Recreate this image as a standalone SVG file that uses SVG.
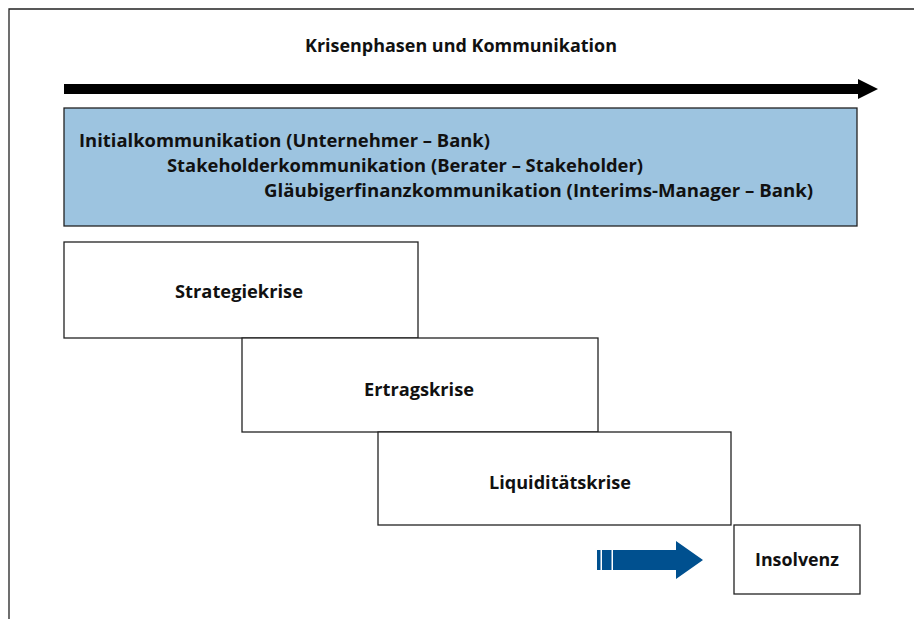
<svg xmlns="http://www.w3.org/2000/svg" width="914" height="619" viewBox="0 0 914 619">
<style>
.t{font-family:"Open Sans","DejaVu Sans Condensed",sans-serif;font-weight:bold;font-size:17px;fill:#111}
.box{fill:#fff;stroke:#222;stroke-width:1.3}
</style>
<rect width="914" height="619" fill="#fff"/>
<g id="frame"><path d="M9 619V9H914" fill="none" stroke="#222" stroke-width="1.3"/></g>
<g id="title"><text class="t" x="461" y="52" text-anchor="middle" textLength="312" lengthAdjust="spacingAndGlyphs">Krisenphasen und Kommunikation</text></g>
<g id="connectors">
<path d="M64 84H858V79L878 89L858 99V94H64Z" fill="#000"/>
<g fill="#00508F"><rect x="597" y="550" width="3.5" height="20"/><rect x="602" y="550" width="9.5" height="20"/><path d="M613 550H676V541L703 560L676 579V570H613Z"/></g>
</g>
<g id="communication">
<rect x="64" y="108" width="793" height="118" fill="#9DC4E0" stroke="#222" stroke-width="1.3"/>
<text class="t" x="79" y="147" textLength="411" lengthAdjust="spacingAndGlyphs">Initialkommunikation (Unternehmer – Bank)</text>
<text class="t" x="167" y="172" textLength="476" lengthAdjust="spacingAndGlyphs">Stakeholderkommunikation (Berater – Stakeholder)</text>
<text class="t" x="264" y="197" textLength="549" lengthAdjust="spacingAndGlyphs">Gläubigerfinanzkommunikation (Interims-Manager – Bank)</text>
</g>
<g id="strategiekrise"><rect class="box" x="64" y="242" width="354" height="96"/><text class="t" x="239" y="298" text-anchor="middle" textLength="128" lengthAdjust="spacingAndGlyphs">Strategiekrise</text></g>
<g id="ertragskrise"><rect class="box" x="242" y="338" width="356" height="94"/><text class="t" x="419" y="396" text-anchor="middle" textLength="110" lengthAdjust="spacingAndGlyphs">Ertragskrise</text></g>
<g id="liquiditaetskrise"><rect class="box" x="378" y="432" width="353" height="93"/><text class="t" x="560" y="489" text-anchor="middle" textLength="142" lengthAdjust="spacingAndGlyphs">Liquiditätskrise</text></g>
<g id="insolvenz"><rect class="box" x="734" y="525" width="126" height="69"/><text class="t" x="797" y="566" text-anchor="middle" textLength="84" lengthAdjust="spacingAndGlyphs">Insolvenz</text></g>
</svg>
